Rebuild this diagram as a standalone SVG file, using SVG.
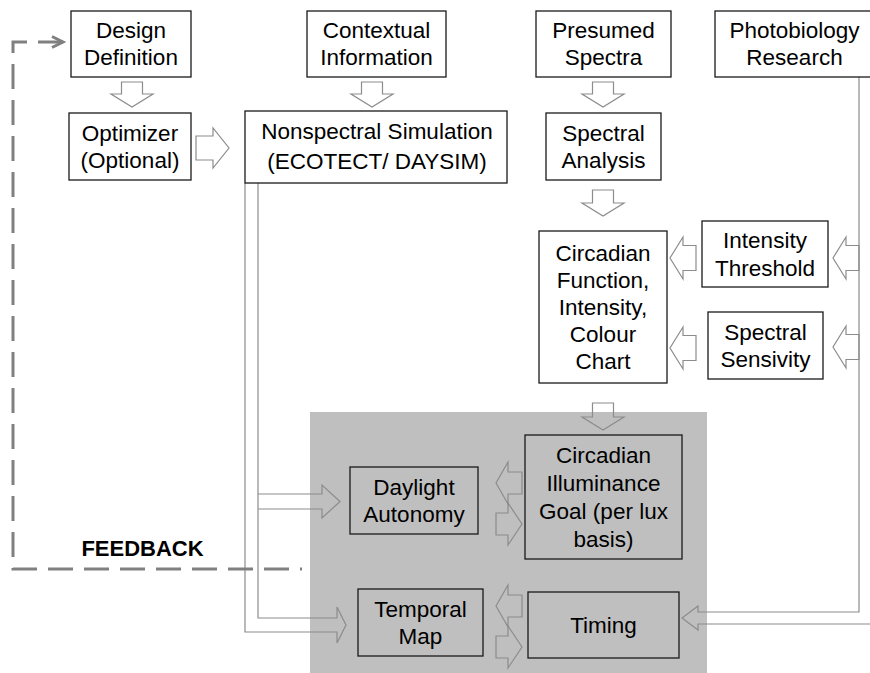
<svg xmlns="http://www.w3.org/2000/svg" width="870" height="673" viewBox="0 0 870 673">
<style>
.box{fill:#fff;stroke:#1a1a1a;stroke-width:1.3}
.gbox{fill:none;stroke:#1a1a1a;stroke-width:1.3}
.t{font-family:"Liberation Sans",Arial,sans-serif;font-size:22.5px;fill:#000;text-anchor:middle}
.blk{fill:none;stroke:#8c8c8c;stroke-width:1.2;stroke-linejoin:miter}
.ln{fill:none;stroke:#8c8c8c;stroke-width:1.2}
.fb{fill:none;stroke:#808080;stroke-width:3}
.fbt{font-family:"Liberation Sans",Arial,sans-serif;font-size:22px;font-weight:bold;fill:#000;text-anchor:middle}
</style>
<rect x="0" y="0" width="870" height="673" fill="#fff"/>
<rect id="zone" x="310" y="412" width="397" height="261" fill="#bfbfbf"/>

<g id="connectors">
  <!-- block arrows -->
  <polygon class="blk" points="121.5,82 142.5,82 142.5,94 153,94 132,107 111,94 121.5,94"/>
  <polygon class="blk" points="361.5,82 382.5,82 382.5,94 393,94 372,107 351,94 361.5,94"/>
  <polygon class="blk" points="592.5,82 613.5,82 613.5,94 624,94 603,107 582,94 592.5,94"/>
  <polygon class="blk" points="592.5,190 613.5,190 613.5,203 624,203 603,216 582,203 592.5,203"/>
  <polygon class="blk" points="592.5,403 613.5,403 613.5,417 624,417 603,430 582,417 592.5,417"/>
  <polygon class="blk" points="196,136 213,136 213,128 229,148 213,168 213,160 196,160"/>
  <polygon class="blk" points="696,245.5 683,245.5 683,237 670,258 683,279 683,270.5 696,270.5"/>
  <polygon class="blk" points="696,335.5 683,335.5 683,327 670,348 683,369 683,360.5 696,360.5"/>
  <polygon class="blk" points="859,245.5 846,245.5 846,237 833,258 846,279 846,270.5 859,270.5"/>
  <polygon class="blk" points="859,334.5 846,334.5 846,326 833,347 846,368 846,359.5 859,359.5"/>
  <polygon class="blk" points="522,472 508,472 508,462 496,483 508,504 508,494 522,494"/>
  <polygon class="blk" points="496,513 508,513 508,503 522,524 508,545 508,535 496,535"/>
  <polygon class="blk" points="522,595 508,595 508,585 496,606 508,627 508,617 522,617"/>
  <polygon class="blk" points="496,636 508,636 508,626 522,647 508,668 508,658 496,658"/>
  <!-- bent arrows -->
  <path class="ln" d="M245,183 V632 H337 V643 L346,625 L337,607 V618 H258 V183"/>
  <path class="ln" d="M258,494 H322 V485 L340,501.5 L322,518 V509 H258"/>
  <path class="ln" d="M859,77 V612 H698 V606 L682,618 L698,630 V624 H872"/>
  <!-- feedback -->
  <path class="fb" d="M63,42 H13 V569 H302" stroke-dasharray="25 11"/>
  <path class="fb" d="M52,36.5 L63,42 L52,47.5"/>
</g>

<g id="design"><rect class="box" x="71" y="11" width="120" height="66"/>
<text class="t" x="131" y="37.5">Design</text><text class="t" x="131" y="65">Definition</text></g>

<g id="optimizer"><rect class="box" x="69" y="113" width="122" height="67"/>
<text class="t" x="130" y="140.5">Optimizer</text><text class="t" x="130" y="168">(Optional)</text></g>

<g id="contextual"><rect class="box" x="307" y="11" width="139" height="66"/>
<text class="t" x="376.5" y="37.5">Contextual</text><text class="t" x="376.5" y="65">Information</text></g>

<g id="nonspectral"><rect class="box" x="245" y="111" width="262" height="72"/>
<text class="t" x="377" y="139">Nonspectral Simulation</text><text class="t" x="377" y="169">(ECOTECT/ DAYSIM)</text></g>

<g id="presumed"><rect class="box" x="536" y="11" width="135" height="66"/>
<text class="t" x="603.5" y="37.5">Presumed</text><text class="t" x="603.5" y="65">Spectra</text></g>

<g id="photobiology"><rect class="box" x="715" y="11" width="162" height="66"/>
<text class="t" x="794.5" y="37.5">Photobiology</text><text class="t" x="794.5" y="65">Research</text></g>

<g id="spectral-analysis"><rect class="box" x="546" y="113" width="115" height="67"/>
<text class="t" x="603.5" y="140.5">Spectral</text><text class="t" x="603.5" y="168">Analysis</text></g>

<g id="circadian-function"><rect class="box" x="539" y="231" width="128" height="152"/>
<text class="t" x="603" y="261">Circadian</text><text class="t" x="603" y="288">Function,</text><text class="t" x="603" y="315">Intensity,</text><text class="t" x="603" y="342">Colour</text><text class="t" x="603" y="369">Chart</text></g>

<g id="intensity-threshold"><rect class="box" x="702" y="221" width="126" height="66"/>
<text class="t" x="765" y="248">Intensity</text><text class="t" x="765" y="275.5">Threshold</text></g>

<g id="spectral-sensivity"><rect class="box" x="708" y="312" width="115" height="67"/>
<text class="t" x="765.5" y="339.5">Spectral</text><text class="t" x="765.5" y="367">Sensivity</text></g>

<g id="daylight"><rect class="gbox" x="350" y="467" width="128" height="67"/>
<text class="t" x="414" y="494.5">Daylight</text><text class="t" x="414" y="522">Autonomy</text></g>

<g id="circadian-goal"><rect class="gbox" x="525" y="435" width="157" height="124"/>
<text class="t" x="603.5" y="463">Circadian</text><text class="t" x="603.5" y="491">Illuminance</text><text class="t" x="603.5" y="519">Goal (per lux</text><text class="t" x="603.5" y="547">basis)</text></g>

<g id="temporal"><rect class="gbox" x="358" y="589" width="125" height="67"/>
<text class="t" x="420.5" y="616.5">Temporal</text><text class="t" x="420.5" y="644">Map</text></g>

<g id="timing"><rect class="gbox" x="528" y="592" width="151" height="66"/>
<text class="t" x="603.5" y="633">Timing</text></g>

<text class="fbt" x="142.5" y="556">FEEDBACK</text>
</svg>
